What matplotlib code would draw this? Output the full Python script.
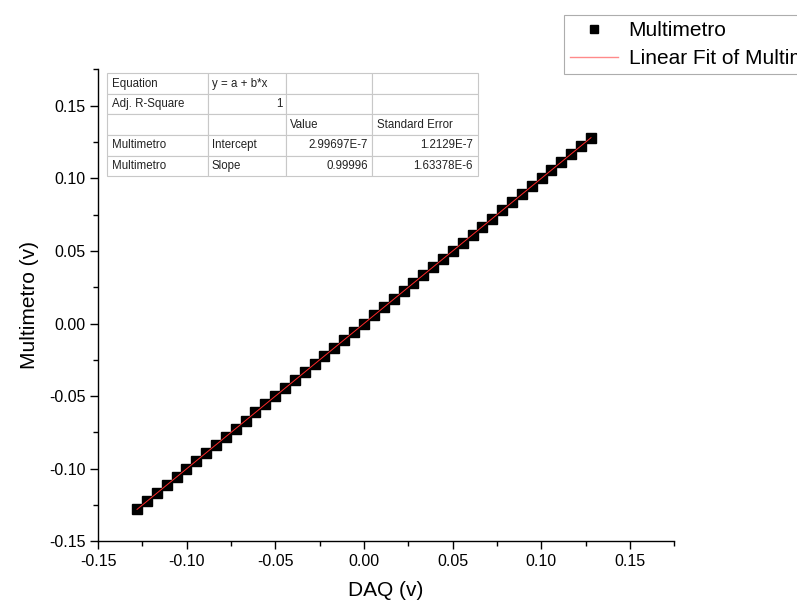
import matplotlib.pyplot as plt
from matplotlib.table import Table

plt.rcParams['font.family'] = ['Liberation Sans', 'DejaVu Sans']

# DAQ vs multimeter readings (V)
daq = [-0.1280, -0.1224, -0.1169, -0.1113, -0.1057, -0.1002, -0.0946, -0.0890,
       -0.0835, -0.0779, -0.0723, -0.0668, -0.0612, -0.0557, -0.0501, -0.0445,
       -0.0390, -0.0334, -0.0278, -0.0223, -0.0167, -0.0111, -0.0056, 0.0000,
       0.0056, 0.0111, 0.0167, 0.0223, 0.0278, 0.0334, 0.0390, 0.0445,
       0.0501, 0.0557, 0.0612, 0.0668, 0.0723, 0.0779, 0.0835, 0.0890,
       0.0946, 0.1002, 0.1057, 0.1113, 0.1169, 0.1224, 0.1280]
multimetro = [-0.1280, -0.1224, -0.1169, -0.1113, -0.1057, -0.1002, -0.0946, -0.0890,
              -0.0835, -0.0779, -0.0723, -0.0668, -0.0612, -0.0557, -0.0501, -0.0445,
              -0.0390, -0.0334, -0.0278, -0.0223, -0.0167, -0.0111, -0.0056, 0.0000,
              0.0056, 0.0111, 0.0167, 0.0223, 0.0278, 0.0334, 0.0390, 0.0445,
              0.0501, 0.0557, 0.0612, 0.0668, 0.0723, 0.0779, 0.0835, 0.0890,
              0.0946, 0.1002, 0.1057, 0.1113, 0.1169, 0.1224, 0.1280]

# linear fit y = a + b*x
intercept = 2.99697e-7
slope = 0.99996
fit_rows = [
    ['Equation', 'y = a + b*x', '', ''],
    ['Adj. R-Square', '1', '', ''],
    ['', '', 'Value', 'Standard Error'],
    ['Multimetro', 'Intercept', '2.99697E-7', '1.2129E-7'],
    ['Multimetro', 'Slope', '0.99996', '1.63378E-6'],
]
right_cells = [(1, 1), (3, 2), (3, 3), (4, 2), (4, 3)]
col_w = [101, 78, 86, 106]

ticks = [-0.15, -0.10, -0.05, 0.00, 0.05, 0.10, 0.15]
minor = [-0.125, -0.075, -0.025, 0.025, 0.075, 0.125, 0.175]

fig = plt.figure(figsize=(7.97, 6.07), dpi=100)
ax = fig.add_axes([0.123, 0.1082, 0.7231, 0.7774])

ax.plot(daq, multimetro, 's', color='black', ms=7, label='Multimetro', zorder=3)
fit_x = [daq[0], daq[-1]]
fit_y = [intercept + slope * x for x in fit_x]
ax.plot(fit_x, fit_y, '-', color='#ff2a2a', lw=0.7, label='Linear Fit of Multimetro', zorder=4)

ax.set_xlim(-0.15, 0.175)
ax.set_ylim(-0.15, 0.175)
ax.set_xticks(ticks)
ax.set_yticks(ticks)
ax.set_xticks(minor, minor=True)
ax.set_yticks(minor, minor=True)
ax.set_xticklabels(['%.2f' % t for t in ticks])
ax.set_yticklabels(['%.2f' % t for t in ticks])
ax.tick_params(which='major', direction='out', length=6, width=1, labelsize=11.5, pad=3)
ax.tick_params(which='minor', direction='out', length=3.5, width=1)
for s in ['top', 'right']:
    ax.spines[s].set_visible(False)
for s in ['left', 'bottom']:
    ax.spines[s].set_linewidth(1)

ax.set_xlabel('DAQ (v)', fontsize=15, labelpad=9)
ax.set_ylabel('Multimetro (v)', fontsize=15, labelpad=7)

# fit results table
tb = Table(ax, bbox=[0.0156, 0.774, 0.644, 0.218])
tot = float(sum(col_w))
for r, row in enumerate(fit_rows):
    for c, txt in enumerate(row):
        loc = 'right' if (r, c) in right_cells else 'left'
        cell = tb.add_cell(r, c, col_w[c] / tot, 1.0 / len(fit_rows), text=txt,
                           loc=loc, edgecolor='#c8c8c8', facecolor='white')
        cell.PAD = 0.05
        cell.set_linewidth(0.8)
        cell.get_text().set_color('#222222')
tb.auto_set_font_size(False)
tb.set_fontsize(8.3)
tb.set_zorder(5)
ax.add_table(tb)

leg = fig.legend(loc='upper left', bbox_to_anchor=(564 / 797, 1 - 15 / 607),
                 borderaxespad=0, fontsize=15, frameon=True, fancybox=False,
                 edgecolor='#999999', handlelength=2.3, handletextpad=0.5,
                 borderpad=0.3, labelspacing=0.42, markerscale=0.75)
leg.get_frame().set_linewidth(0.8)
leg.get_lines()[1].set_color('#ff8a8a')
leg.get_lines()[1].set_linewidth(1.0)

plt.savefig('out.png', dpi=100)
